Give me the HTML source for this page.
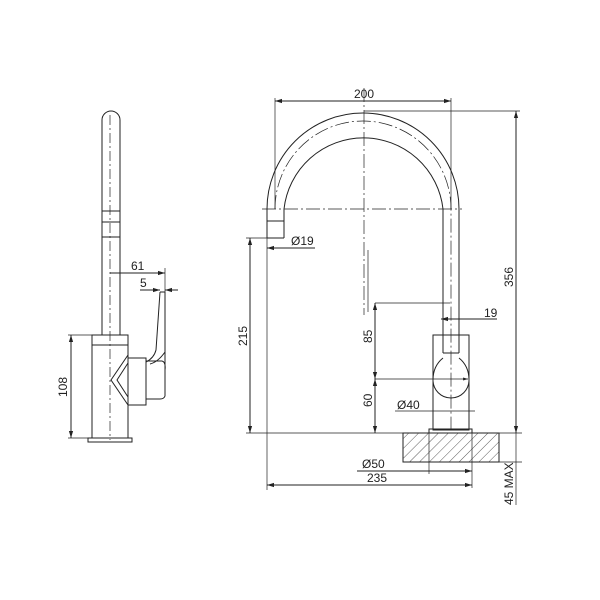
<!DOCTYPE html>
<html><head><style>body{margin:0;background:#fff}svg{display:block}</style></head><body>
<svg width="600" height="600" viewBox="0 0 600 600" xmlns="http://www.w3.org/2000/svg" font-family="Liberation Sans, sans-serif" font-size="12" fill="none" stroke="#222" stroke-width="1">
<defs>
<marker id="a" viewBox="0 0 10 10" refX="10" refY="5" markerWidth="7" markerHeight="7" orient="auto-start-reverse"><path d="M0,2 L10,5 L0,8" fill="#222" stroke="none"/></marker>
<pattern id="h" width="7" height="7" patternUnits="userSpaceOnUse" patternTransform="rotate(45)"><line x1="0" y1="0" x2="0" y2="7" stroke="#333" stroke-width="0.8"/></pattern>
</defs>
<!-- LEFT VIEW -->
<path d="M102,335 V120 A9,9 0 0 1 120,120 V335"/>
<line x1="102" y1="211" x2="120" y2="211"/><line x1="102" y1="222" x2="120" y2="222"/><line x1="102" y1="237" x2="120" y2="237"/>
<line x1="110" y1="115" x2="110" y2="440" stroke-dasharray="10,3,2,3" stroke-width="0.7"/>
<rect x="92" y="335" width="36" height="103"/>
<line x1="92" y1="345" x2="128" y2="345"/>
<rect x="88" y="438" width="44" height="4"/>
<path d="M128,355 L111,380 L128,405 M128,363 L117,380 L128,397"/>
<path d="M128,358 H146 V405 H128"/>
<path d="M146,361 H162 Q166,362 165,370 V396 Q164,399 160,399 H146"/>
<path d="M160,292 H165 V375 M160,292 L156,350 Q154,358 146,362 M165,352 Q158,362 150,364"/>
<line x1="110" y1="273" x2="165" y2="273" marker-end="url(#a)"/>
<line x1="165" y1="268" x2="165" y2="292" stroke-width="0.7"/>
<text x="131" y="270" fill="#222" stroke="none">61</text>
<line x1="140" y1="290" x2="160" y2="290" marker-end="url(#a)"/>
<line x1="178" y1="290" x2="165" y2="290" marker-end="url(#a)"/>
<text x="140" y="287" fill="#222" stroke="none">5</text>
<line x1="68" y1="335" x2="92" y2="335" stroke-width="0.7"/><line x1="68" y1="438" x2="88" y2="438" stroke-width="0.7"/>
<line x1="71" y1="335" x2="71" y2="438" marker-start="url(#a)" marker-end="url(#a)"/>
<text transform="translate(67,397) rotate(-90)" fill="#222" stroke="none">108</text>
<!-- RIGHT VIEW -->
<path d="M267,238 V209 A96,96 0 0 1 459,209 V353 M284,238 V209 A80,80 0 0 1 443,209 V353"/>
<path d="M267,221 H284 M267,238 H284"/>
<path d="M275,209 A88,88 0 0 1 451,209 V430" stroke-dasharray="14,3,2,3" stroke-width="0.7"/>
<line x1="364" y1="88" x2="364" y2="315" stroke-dasharray="14,3,2,3" stroke-width="0.7"/>
<line x1="262" y1="209" x2="462" y2="209" stroke-dasharray="14,3,2,3" stroke-width="0.7"/>
<rect x="433" y="335" width="36" height="95"/>
<path d="M443,353 H459"/>
<path d="M433,380 A18,18 0 0 0 469,380 M443,358 Q433,366 433,380 M459,358 Q469,366 469,380"/>
<rect x="429" y="429" width="43" height="4"/>
<rect x="403" y="433" width="96" height="29" fill="url(#h)"/>
<line x1="246" y1="433" x2="522" y2="433" stroke-width="0.8"/>
<line x1="499" y1="462" x2="522" y2="462" stroke-width="0.7"/>
<!-- dims -->
<line x1="275" y1="98" x2="275" y2="209" stroke-width="0.7"/><line x1="451" y1="98" x2="451" y2="209" stroke-width="0.7"/>
<line x1="275" y1="101" x2="451" y2="101" marker-start="url(#a)" marker-end="url(#a)"/>
<text x="354" y="98" fill="#222" stroke="none">200</text>
<line x1="364" y1="111" x2="520" y2="111" stroke-width="0.7"/>
<line x1="516" y1="111" x2="516" y2="433" marker-start="url(#a)" marker-end="url(#a)"/>
<text transform="translate(513,287) rotate(-90)" fill="#222" stroke="none">356</text>
<line x1="516" y1="433" x2="516" y2="505" stroke-width="0.7"/>
<text transform="translate(513,505) rotate(-90)" fill="#222" stroke="none">45 MAX</text>
<line x1="267" y1="238" x2="267" y2="490" stroke-width="0.7"/>
<line x1="267" y1="248" x2="315" y2="248" marker-start="url(#a)"/>
<text x="291" y="245" fill="#222" stroke="none">Ø19</text>
<line x1="246" y1="238" x2="267" y2="238" stroke-width="0.7"/>
<line x1="250" y1="238" x2="250" y2="433" marker-start="url(#a)" marker-end="url(#a)"/>
<text transform="translate(247,346) rotate(-90)" fill="#222" stroke="none">215</text>
<line x1="368" y1="250" x2="368" y2="312" stroke-width="0.7"/>
<line x1="375" y1="303" x2="450" y2="303" stroke-width="0.7"/>
<line x1="375" y1="379" x2="468" y2="379" stroke-width="0.7" marker-end="url(#a)"/>
<line x1="375" y1="303" x2="375" y2="379" marker-start="url(#a)" marker-end="url(#a)"/>
<line x1="375" y1="379" x2="375" y2="433" marker-start="url(#a)" marker-end="url(#a)"/>
<text transform="translate(372,343) rotate(-90)" fill="#222" stroke="none">85</text>
<text transform="translate(372,407) rotate(-90)" fill="#222" stroke="none">60</text>
<line x1="441" y1="319" x2="497" y2="319" marker-start="url(#a)"/>
<text x="484" y="317" fill="#222" stroke="none">19</text>
<line x1="395" y1="411" x2="475" y2="411" stroke-width="0.8"/>
<text x="397" y="409" fill="#222" stroke="none">Ø40</text>
<line x1="429" y1="433" x2="429" y2="474" stroke-width="0.7"/><line x1="472" y1="433" x2="472" y2="488" stroke-width="0.7"/>
<line x1="357" y1="471" x2="472" y2="471" marker-end="url(#a)"/>
<text x="362" y="468" fill="#222" stroke="none">Ø50</text>
<line x1="267" y1="485" x2="472" y2="485" marker-start="url(#a)" marker-end="url(#a)"/>
<text x="367" y="482" fill="#222" stroke="none">235</text>
</svg>
</body></html>
